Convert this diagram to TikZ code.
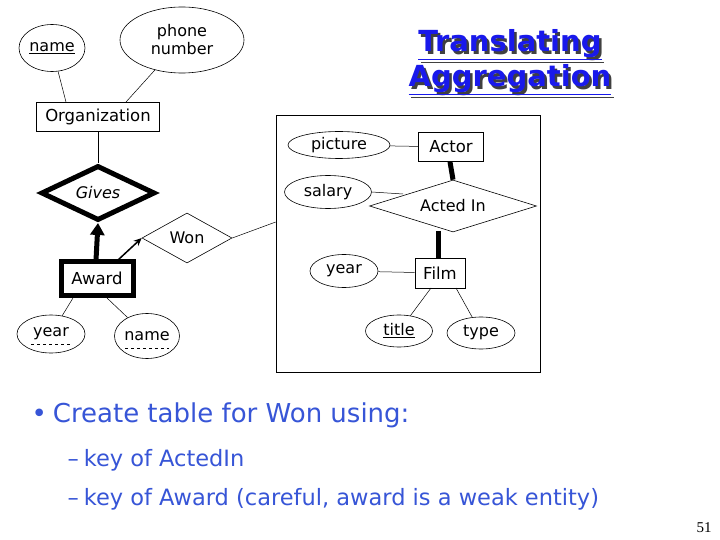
\documentclass[tikz,border=0pt]{standalone}
\usepackage{fontspec}
\setmainfont{DejaVu Sans}
\usetikzlibrary{shapes.geometric,arrows.meta}
\definecolor{tblue}{RGB}{25,25,235}
\definecolor{bblue}{RGB}{55,85,215}
\tikzset{
  attr/.style={draw,ellipse,inner sep=0pt,font=\fontsize{16}{18}\selectfont,line width=0.6pt},
  ent/.style={draw,rectangle,inner sep=0pt,font=\fontsize{16.5}{18}\selectfont,line width=0.6pt},
  rel/.style={draw,diamond,aspect=2,inner sep=0pt,font=\fontsize{16}{18}\selectfont,line width=0.6pt},
  ln/.style={line width=0.5pt},
  thick line/.style={line width=5pt},
}
\begin{document}
\begin{tikzpicture}[x=1pt,y=-1pt]
\useasboundingbox (0,0) rectangle (720,540);
\fill[white] (0,0) rectangle (720,540);
% title
\foreach \dx/\c in {2.5/black!75,0/tblue}{
\node[text=\c,font=\bfseries\fontsize{29}{32}\selectfont] at (510+\dx,45+\dx) {\underline{Translating}};
\node[text=\c,font=\bfseries\fontsize{29}{32}\selectfont] at (510+\dx,80+\dx) {\underline{Aggregation}};
}
% left part
\node[attr,minimum width=66,minimum height=47] (oname) at (52,48) {\underline{name}};
\node[attr,minimum width=124,minimum height=66,align=center] (phone) at (182,40) {phone\\number};
\node[ent,minimum width=123,minimum height=29] (org) at (98,117) {Organization};
\node[rel,minimum width=114,minimum height=55,line width=5pt,font=\itshape\fontsize{16}{18}\selectfont] (gives) at (98,193) {Gives};
\node[ent,minimum width=72,minimum height=34,line width=5pt] (award) at (97,278) {Award};
\node[rel,minimum width=90,minimum height=50] (won) at (187,238) {Won};
\node[attr,minimum width=68,minimum height=38] (ayear) at (51,334) {year};
\node[attr,minimum width=65,minimum height=45] (aname) at (147,336) {name};
\draw[dashed,line width=0.5pt] (31,344) -- (70,344);
\draw[dashed,line width=0.5pt] (125,348) -- (169,348);
\draw[ln] (oname) -- (66,102);
\draw[ln] (phone) -- (126,102);
\draw[ln] (org) -- (gives);
\draw[line width=5pt,-{Triangle[length=12pt,width=14pt]}] (96,260) -- (gives.south);
\draw[line width=1.5pt,-{Stealth[length=8pt,width=7pt]}] (118,260) -- (won.west);
\draw[ln] (ayear) -- (73,298);
\draw[ln] (aname) -- (107,298);
% aggregation box
\node[draw,line width=0.6pt,minimum width=264,minimum height=257,inner sep=0pt] (box) at (408,243.5) {};
\draw[ln] (won.east) -- (box.west |- 0,222);
\node[attr,minimum width=102,minimum height=27] (pic) at (339,145) {picture};
\node[ent,minimum width=65,minimum height=29] (actor) at (451,147) {Actor};
\node[rel,minimum width=167,minimum height=52] (acted) at (453,206) {Acted In};
\node[attr,minimum width=87,minimum height=33] (sal) at (328,192) {salary};
\node[ent,minimum width=50,minimum height=30] (film) at (440,273) {Film};
\node[attr,minimum width=68,minimum height=33] (fyear) at (344,271) {year};
\node[attr,minimum width=67,minimum height=32] (title) at (399,331) {\underline{title}};
\node[attr,minimum width=68,minimum height=32] (type) at (481,333) {type};
\draw[ln] (pic) -- (actor);
\draw[thick line] (actor.south -| 450,0) -- (acted.north);
\draw[thick line] (438,231) -- (438,258);
\draw[ln] (sal.east) -- (403,194);
\draw[ln] (fyear) -- (film);
\draw[ln] (431,288) -- (title);
\draw[ln] (456,288) -- (type);
% bullets
\node[anchor=west,text=bblue,font=\fontsize{26}{30}\selectfont] (b1) at (28,415) {•\hspace{6pt}Create table for Won using:};
\node[anchor=west,text=bblue,font=\fontsize{22.5}{26}\selectfont] (b2) at (64,460) {–\hspace{5pt}key of ActedIn};
\node[anchor=west,text=bblue,font=\fontsize{22.5}{26}\selectfont] (b3) at (64,499) {–\hspace{5pt}key of Award (careful, award is a weak entity)};
\node[font=\fontspec{Liberation Serif}\fontsize{15}{17}\selectfont] (pg) at (704,528) {51};
\end{tikzpicture}
\end{document}
